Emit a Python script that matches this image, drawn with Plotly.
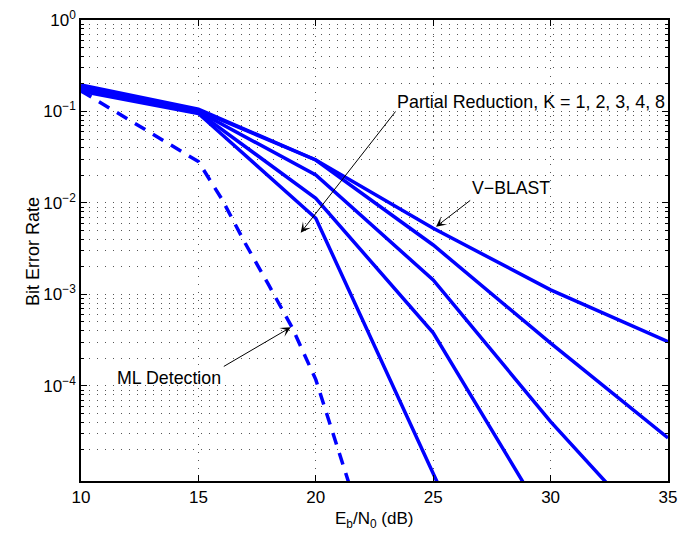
import plotly.graph_objects as go

# ---------------- data ----------------
snr = [10, 15, 20, 25, 30, 35]
ber_vblast = [0.195, 0.106, 0.0295, 0.00529, 0.00112, 3.05e-4]
ber_pr_a = [0.188, 0.103, 0.0295, 0.00347, 2.93e-4, 2.7e-5]
ber_pr_b = [0.182, 0.100, 0.0202, 0.00144, 4.07e-5, 1.6e-6]
ber_pr_c = [0.175, 0.098, 0.01125, 3.8e-4, 2.8e-6, None]
ber_pr_d = [0.167, 0.095, 0.0068, 1.1e-5, 2e-8, None]

snr_ml = [10, 15, 16, 17, 18, 19, 20, 21, 22]
ber_ml = [0.168, 0.0283, 0.011, 3.6e-3, 1.26e-3, 4.3e-4, 1.17e-4, 1.86e-5, 2.9e-6]

x_ticks = [10, 15, 20, 25, 30, 35]
y_ticks = [1, 1e-1, 1e-2, 1e-3, 1e-4]
y_ticktext = ["10<sup>0</sup>", "10<sup>−1</sup>", "10<sup>−2</sup>",
              "10<sup>−3</sup>", "10<sup>−4</sup>"]
y_minor = [m * 10.0 ** e for e in range(-5, 0) for m in range(2, 10)]

# ---------------- figure ----------------
BLUE = "#0000FF"
FONT = "Liberation Sans, Arial, Helvetica, sans-serif"

fig = go.Figure()
for ys in [ber_vblast, ber_pr_a, ber_pr_b, ber_pr_c, ber_pr_d]:
    fig.add_trace(go.Scatter(x=snr, y=ys, mode="lines",
                             line=dict(color=BLUE, width=3.5),
                             connectgaps=False, showlegend=False))
fig.add_trace(go.Scatter(x=snr_ml, y=ber_ml, mode="lines",
                         line=dict(color=BLUE, width=3.5, dash="12px,9px"),
                         showlegend=False))

L, R, T, B = 81, 668, 20, 481
W, H = R - L, B - T


def px(x):
    return (x - L) / W


def py(y):
    return (B - y) / H


grid = dict(showgrid=True, gridcolor="#555555", gridwidth=1, griddash="1px,7px")

fig.update_layout(
    width=689, height=533,
    margin=dict(l=L, r=689 - R, t=T, b=533 - B, autoexpand=False),
    paper_bgcolor="white", plot_bgcolor="white",
    font=dict(family=FONT, size=17, color="black"),
    xaxis=dict(range=[10, 35], tickmode="array", tickvals=x_ticks,
               ticks="inside", ticklen=6, tickwidth=1, tickcolor="black",
               showline=True, linecolor="black", linewidth=1.5, mirror="ticks",
               zeroline=False, automargin=False, **grid),
    yaxis=dict(type="log", range=[-5.04, 0], tickmode="array",
               tickvals=y_ticks, ticktext=y_ticktext,
               ticks="inside", ticklen=6, tickwidth=1, tickcolor="black",
               showline=True, linecolor="black", linewidth=1.5, mirror="ticks",
               zeroline=False, automargin=False,
               minor=dict(tickmode="array", tickvals=y_minor, ticks="inside",
                          ticklen=3, tickwidth=1, tickcolor="black",
                          showgrid=True, gridcolor="#555555", gridwidth=1,
                          griddash="1px,7px"),
               **grid),
)

ann = []
# axis titles
ann.append(dict(xref="paper", yref="paper", x=px(33), y=py(252), text="Bit Error Rate",
                textangle=-90, showarrow=False, xanchor="center", yanchor="middle",
                font=dict(size=18)))
ann.append(dict(xref="paper", yref="paper", x=px(374), y=py(520),
                text="E<sub>b</sub>/N<sub>0</sub> (dB)", showarrow=False,
                xanchor="center", yanchor="middle", font=dict(size=17)))
# text labels
ann.append(dict(xref="paper", yref="paper", x=px(395), y=py(102),
                text="Partial Reduction, K = 1, 2, 3, 4, 8", showarrow=False,
                xanchor="left", yanchor="middle", font=dict(size=17.9)))
ann.append(dict(xref="paper", yref="paper", x=px(470), y=py(188),
                text="V−BLAST", showarrow=False,
                xanchor="left", yanchor="middle", font=dict(size=17.7)))
ann.append(dict(xref="paper", yref="paper", x=px(115), y=py(378),
                text="ML Detection", showarrow=False,
                xanchor="left", yanchor="middle", font=dict(size=17.8)))
# arrows (head position, tail offset in pixels)
for hx, hy, tx, ty in [(300.7, 232.7, 396.7, 110), (436, 226.7, 471.7, 199.3),
                       (290.7, 327.3, 222.3, 367.3)]:
    ann.append(dict(xref="paper", yref="paper", x=px(hx), y=py(hy), text="",
                    showarrow=True, axref="pixel", ayref="pixel",
                    ax=tx - hx, ay=ty - hy, arrowhead=3, arrowsize=1.7,
                    arrowwidth=1, arrowcolor="black", standoff=0))
fig.update_layout(annotations=ann)

fig.write_html("out.html", config={"displayModeBar": False},
               post_script="document.body.style.margin='0';"
                           "document.body.style.padding='0';")
